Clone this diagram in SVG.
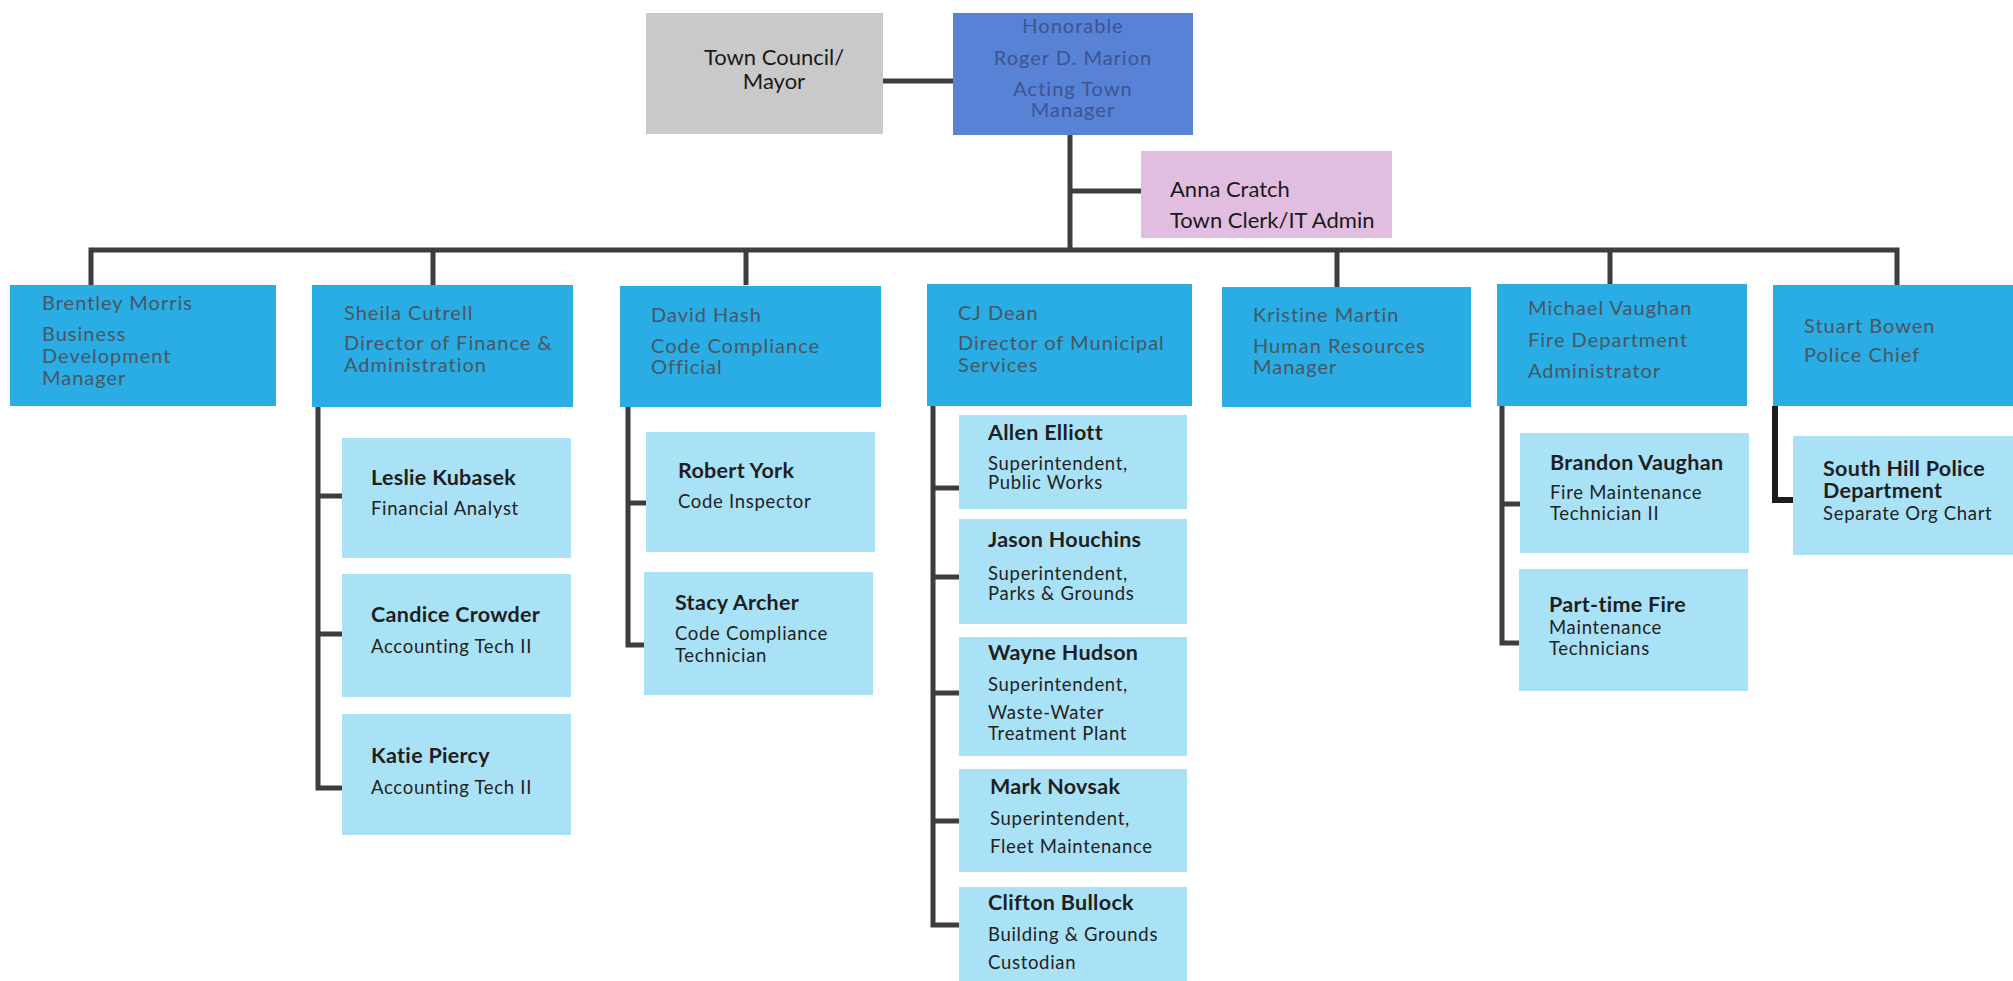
<svg xmlns="http://www.w3.org/2000/svg" width="2013" height="981" viewBox="0 0 2013 981">
<style>
.top{fill:#29ade4}
.sub{fill:#a9e2f6}
.tt{font-family:Lato,"Noto Sans",sans-serif;font-size:20px;fill:#4a5663;letter-spacing:1px}
.nm{font-family:Lato,"Noto Sans",sans-serif;font-size:21.5px;font-weight:bold;fill:#1e1e1e;letter-spacing:0.3px}
.st{font-family:Lato,"Noto Sans",sans-serif;font-size:18.5px;fill:#222;letter-spacing:0.7px}
.mg{font-family:Lato,"Noto Sans",sans-serif;font-size:20px;fill:#3e5491;text-anchor:middle;letter-spacing:1px}
.bk{font-family:Lato,"Noto Sans",sans-serif;font-size:22px;fill:#1a1a1a}
.ln{stroke:#3d3d3d;stroke-width:5;fill:none}
</style>
<g id="connectors">
<line class="ln" x1="881" y1="81" x2="953" y2="81"/>
<line class="ln" x1="1070" y1="135" x2="1070" y2="250"/>
<line class="ln" x1="1070" y1="191" x2="1141" y2="191"/>
<polyline class="ln" points="91,285 91,250 1897,250 1897,285"/>
<line class="ln" x1="433" y1="250" x2="433" y2="285"/>
<line class="ln" x1="746" y1="250" x2="746" y2="285"/>
<line class="ln" x1="1337" y1="250" x2="1337" y2="287"/>
<line class="ln" x1="1610" y1="250" x2="1610" y2="284"/>
<polyline class="ln" points="318,407 318,788 342,788"/>
<line class="ln" x1="318" y1="496" x2="342" y2="496"/>
<line class="ln" x1="318" y1="634" x2="342" y2="634"/>
<polyline class="ln" points="628,407 628,645 644,645"/>
<line class="ln" x1="628" y1="503" x2="646" y2="503"/>
<polyline class="ln" points="933,406 933,925 959,925"/>
<line class="ln" x1="933" y1="488" x2="959" y2="488"/>
<line class="ln" x1="933" y1="577" x2="959" y2="577"/>
<line class="ln" x1="933" y1="693" x2="959" y2="693"/>
<line class="ln" x1="933" y1="821" x2="959" y2="821"/>
<polyline class="ln" points="1502,406 1502,643 1519,643"/>
<line class="ln" x1="1502" y1="504" x2="1520" y2="504"/>
<polyline class="ln" points="1775,406 1775,500 1793,500" style="stroke:#1c1c1c;stroke-width:6"/>
</g>
<g id="council">
<rect x="646" y="13" width="237" height="121" fill="#c9c9c9"/>
<text class="bk" x="774" y="65" text-anchor="middle">Town Council/</text>
<text class="bk" x="774" y="89" text-anchor="middle">Mayor</text>
</g>
<g id="manager">
<rect x="953" y="13" width="240" height="122" fill="#5882d6"/>
<text class="mg" x="1073" y="33">Honorable</text>
<text class="mg" x="1073" y="65">Roger D. Marion</text>
<text class="mg" x="1073" y="96">Acting Town</text>
<text class="mg" x="1073" y="117">Manager</text>
</g>
<g id="clerk">
<rect x="1141" y="151" width="251" height="87" fill="#e1bde0"/>
<text class="bk" x="1170" y="197">Anna Cratch</text>
<text class="bk" x="1170" y="228">Town Clerk/IT Admin</text>
</g>
<g id="morris">
<rect class="top" x="10" y="285" width="266" height="121"/>
<text class="tt" x="42" y="310">Brentley Morris</text>
<text class="tt" x="42" y="341">Business</text>
<text class="tt" x="42" y="363">Development</text>
<text class="tt" x="42" y="385">Manager</text>
</g>
<g id="cutrell">
<rect class="top" x="312" y="285" width="261" height="122"/>
<text class="tt" x="344" y="320">Sheila Cutrell</text>
<text class="tt" x="344" y="350">Director of Finance &amp;</text>
<text class="tt" x="344" y="372">Administration</text>
</g>
<g id="hash">
<rect class="top" x="620" y="286" width="261" height="121"/>
<text class="tt" x="651" y="322">David Hash</text>
<text class="tt" x="651" y="353">Code Compliance</text>
<text class="tt" x="651" y="374">Official</text>
</g>
<g id="dean">
<rect class="top" x="927" y="284" width="265" height="122"/>
<text class="tt" x="958" y="320">CJ Dean</text>
<text class="tt" x="958" y="350">Director of Municipal</text>
<text class="tt" x="958" y="372">Services</text>
</g>
<g id="martin">
<rect class="top" x="1222" y="287" width="249" height="120"/>
<text class="tt" x="1253" y="322">Kristine Martin</text>
<text class="tt" x="1253" y="353">Human Resources</text>
<text class="tt" x="1253" y="374">Manager</text>
</g>
<g id="mvaughan">
<rect class="top" x="1497" y="284" width="250" height="122"/>
<text class="tt" x="1528" y="315">Michael Vaughan</text>
<text class="tt" x="1528" y="347">Fire Department</text>
<text class="tt" x="1528" y="378">Administrator</text>
</g>
<g id="bowen">
<rect class="top" x="1773" y="285" width="245" height="121"/>
<text class="tt" x="1804" y="333">Stuart Bowen</text>
<text class="tt" x="1804" y="362">Police Chief</text>
</g>
<g id="kubasek">
<rect class="sub" x="342" y="438" width="229" height="120"/>
<text class="nm" x="371" y="485">Leslie Kubasek</text>
<text class="st" x="371" y="515">Financial Analyst</text>
</g>
<g id="crowder">
<rect class="sub" x="342" y="574" width="229" height="123"/>
<text class="nm" x="371" y="622">Candice Crowder</text>
<text class="st" x="371" y="653">Accounting Tech II</text>
</g>
<g id="piercy">
<rect class="sub" x="342" y="714" width="229" height="121"/>
<text class="nm" x="371" y="763">Katie Piercy</text>
<text class="st" x="371" y="794">Accounting Tech II</text>
</g>
<g id="york">
<rect class="sub" x="646" y="432" width="229" height="120"/>
<text class="nm" x="678" y="478">Robert York</text>
<text class="st" x="678" y="508">Code Inspector</text>
</g>
<g id="archer">
<rect class="sub" x="644" y="572" width="229" height="123"/>
<text class="nm" x="675" y="610">Stacy Archer</text>
<text class="st" x="675" y="640">Code Compliance</text>
<text class="st" x="675" y="662">Technician</text>
</g>
<g id="elliott">
<rect class="sub" x="959" y="415" width="228" height="94"/>
<text class="nm" x="988" y="440">Allen Elliott</text>
<text class="st" x="988" y="470">Superintendent,</text>
<text class="st" x="988" y="489">Public Works</text>
</g>
<g id="houchins">
<rect class="sub" x="959" y="519" width="228" height="105"/>
<text class="nm" x="988" y="547">Jason Houchins</text>
<text class="st" x="988" y="580">Superintendent,</text>
<text class="st" x="988" y="600">Parks &amp; Grounds</text>
</g>
<g id="hudson">
<rect class="sub" x="959" y="637" width="228" height="119"/>
<text class="nm" x="988" y="660">Wayne Hudson</text>
<text class="st" x="988" y="691">Superintendent,</text>
<text class="st" x="988" y="719">Waste-Water</text>
<text class="st" x="988" y="740">Treatment Plant</text>
</g>
<g id="novsak">
<rect class="sub" x="959" y="769" width="228" height="103"/>
<text class="nm" x="990" y="794">Mark Novsak</text>
<text class="st" x="990" y="825">Superintendent,</text>
<text class="st" x="990" y="853">Fleet Maintenance</text>
</g>
<g id="bullock">
<rect class="sub" x="959" y="887" width="228" height="100"/>
<text class="nm" x="988" y="910">Clifton Bullock</text>
<text class="st" x="988" y="941">Building &amp; Grounds</text>
<text class="st" x="988" y="969">Custodian</text>
</g>
<g id="bvaughan">
<rect class="sub" x="1520" y="433" width="229" height="120"/>
<text class="nm" x="1550" y="470">Brandon Vaughan</text>
<text class="st" x="1550" y="499">Fire Maintenance</text>
<text class="st" x="1550" y="520">Technician II</text>
</g>
<g id="parttime">
<rect class="sub" x="1519" y="569" width="229" height="122"/>
<text class="nm" x="1549" y="612">Part-time Fire</text>
<text class="st" x="1549" y="634">Maintenance</text>
<text class="st" x="1549" y="655">Technicians</text>
</g>
<g id="southhill">
<rect class="sub" x="1793" y="436" width="225" height="119"/>
<text class="nm" x="1823" y="476">South Hill Police</text>
<text class="nm" x="1823" y="498">Department</text>
<text class="st" x="1823" y="520">Separate Org Chart</text>
</g>
</svg>
